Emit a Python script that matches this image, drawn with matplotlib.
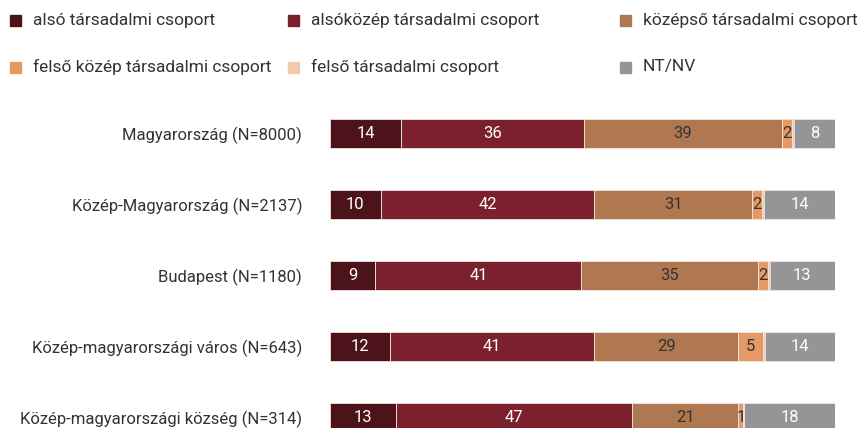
import matplotlib.pyplot as plt
from matplotlib.patches import Rectangle

plt.rcParams['font.family'] = ['Roboto', 'DejaVu Sans']

regions = ['Magyarország (N=8000)', 'Közép-Magyarország (N=2137)', 'Budapest (N=1180)',
           'Közép-magyarországi város (N=643)', 'Közép-magyarországi község (N=314)']
groups = ['alsó társadalmi csoport', 'alsóközép társadalmi csoport', 'középső társadalmi csoport',
          'felső közép társadalmi csoport', 'felső társadalmi csoport', 'NT/NV']
also = [14, 10, 9, 12, 13]
alsokozep = [36, 42, 41, 41, 47]
kozepso = [39, 31, 35, 29, 21]
felso_kozep = [2, 2, 2, 5, 1]
felso = [0.4, 0.3, 0.4, 0.4, 0.2]
ntnv = [8, 14, 13, 14, 18]

colors = ['#4d131b', '#7b212e', '#b07851', '#e49966', '#f2c9aa', '#959598']
text_colors = ['white', 'white', '#333333', '#333333', None, 'white']

series = [also, alsokozep, kozepso, felso_kozep, felso, ntnv]
totals = [sum(s[i] for s in series) for i in range(len(regions))]

W, H = 862, 428
fig = plt.figure(figsize=(W / 100, H / 100), dpi=100)
ax = fig.add_axes([330 / W, 0, 505 / W, 330 / H])

left = [0.0] * len(regions)
for vals, col, tcol in zip(series, colors, text_colors):
    share = [v / t * 100 for v, t in zip(vals, totals)]
    ax.barh(range(len(regions)), share, left=left, height=0.41, color=col,
            edgecolor='#f0e6df', linewidth=0.6)
    if tcol:
        for i, (v, s) in enumerate(zip(vals, share)):
            ax.text(left[i] + s / 2, i, str(v), ha='center', va='center',
                    color=tcol, fontsize=12)
    left = [l + s for l, s in zip(left, share)]

ax.set_xlim(0, 100)
ax.set_ylim(4.148, -0.5)
ax.set_yticks(range(len(regions)))
ax.set_yticklabels(regions, fontsize=12, color='#333333')
ax.tick_params(axis='y', length=0, pad=20)
ax.set_xticks([])
for sp in ax.spines.values():
    sp.set_visible(False)

# legend, drawn by hand to keep the uneven column positions
leg_x = [10, 288, 620]
leg_y = [20, 67]
for k, (name, col) in enumerate(zip(groups, colors)):
    x = leg_x[k % 3]
    y = leg_y[k // 3]
    fig.add_artist(Rectangle((x / W, 1 - (y + 5.5) / H), 11 / W, 11 / H,
                             transform=fig.transFigure, color=col))
    fig.text((x + 23) / W, 1 - y / H, name, ha='left', va='center',
             fontsize=12.5, color='#333333')

fig.savefig('out.png', dpi=100)
